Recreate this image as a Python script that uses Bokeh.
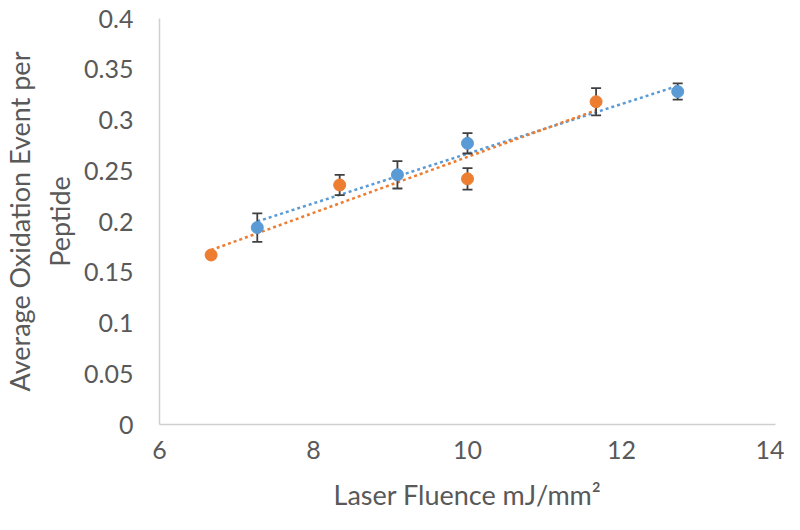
import numpy as np
from bokeh.plotting import figure
from bokeh.models import Range1d, FixedTicker
from bokeh.embed import file_html
from bokeh.resources import INLINE

# Data
blue_x = [7.27, 9.09, 10.0, 12.73]
blue_y = [0.194, 0.246, 0.277, 0.328]
blue_err = [0.014, 0.0135, 0.010, 0.008]

orange_x = [6.67, 8.34, 10.0, 11.67]
orange_y = [0.167, 0.236, 0.242, 0.318]
orange_err = [0.003, 0.010, 0.0105, 0.0135]

x_ticks = [6, 8, 10, 12, 14]
y_ticks = [0, 0.05, 0.1, 0.15, 0.2, 0.25, 0.3, 0.35, 0.4]

BLUE = "#5B9BD5"
ORANGE = "#ED7D31"
FONT = "Lato"
GRAY = "#595959"

p = figure(width=784, height=514, output_backend="svg", toolbar_location=None,
           x_range=Range1d(6, 14), y_range=Range1d(0, 0.4),
           min_border_left=150, min_border_right=9, min_border_top=18, min_border_bottom=90)
p.outline_line_color = None
p.xgrid.grid_line_color = None
p.ygrid.grid_line_color = None

# trendlines (linear fit of each series)
for xs, ys, col in [(blue_x, blue_y, BLUE), (orange_x, orange_y, ORANGE)]:
    k, b = np.polyfit(xs, ys, 1)
    tx = np.array([min(xs), max(xs)])
    p.line(tx, k * tx + b, line_color=col, line_width=2.5, line_dash="3 3")

# error bars
for xs, ys, es in [(blue_x, blue_y, blue_err), (orange_x, orange_y, orange_err)]:
    xs = np.array(xs); ys = np.array(ys); es = np.array(es)
    p.segment(xs, ys - es, xs, ys + es, line_color="#404040", line_width=1.8)
    p.scatter(np.concatenate([xs, xs]), np.concatenate([ys - es, ys + es]), marker="dash",
              size=10, line_color="#404040", line_width=1.8)

p.scatter(blue_x, blue_y, size=12, fill_color=BLUE, line_color=BLUE)
p.scatter(orange_x, orange_y, size=12, fill_color=ORANGE, line_color=ORANGE)

for ax in (p.xaxis, p.yaxis):
    ax.axis_line_color = "#d0d0d0"
    ax.axis_line_width = 1.5
    ax.major_tick_line_color = None
    ax.minor_tick_line_color = None
    ax.major_label_text_font = FONT
    ax.major_label_text_font_size = "25px"
    ax.major_label_text_color = GRAY
    ax.axis_label_text_font = FONT
    ax.axis_label_text_font_size = "27px"
    ax.axis_label_text_font_style = "normal"
    ax.axis_label_text_color = GRAY

p.xaxis.ticker = FixedTicker(ticks=x_ticks)
p.yaxis.ticker = FixedTicker(ticks=y_ticks)
p.yaxis.major_label_overrides = {t: ("%g" % t) for t in y_ticks}
p.xaxis.major_label_standoff = 10
p.yaxis.major_label_standoff = 20
p.xaxis.axis_label = "Laser Fluence mJ/mm\u00b2"
p.yaxis.axis_label = "Average Oxidation Event per\nPeptide"
p.xaxis.axis_label_standoff = 16
p.yaxis.axis_label_standoff = 5

open("out.html", "w").write(file_html(p, INLINE))
